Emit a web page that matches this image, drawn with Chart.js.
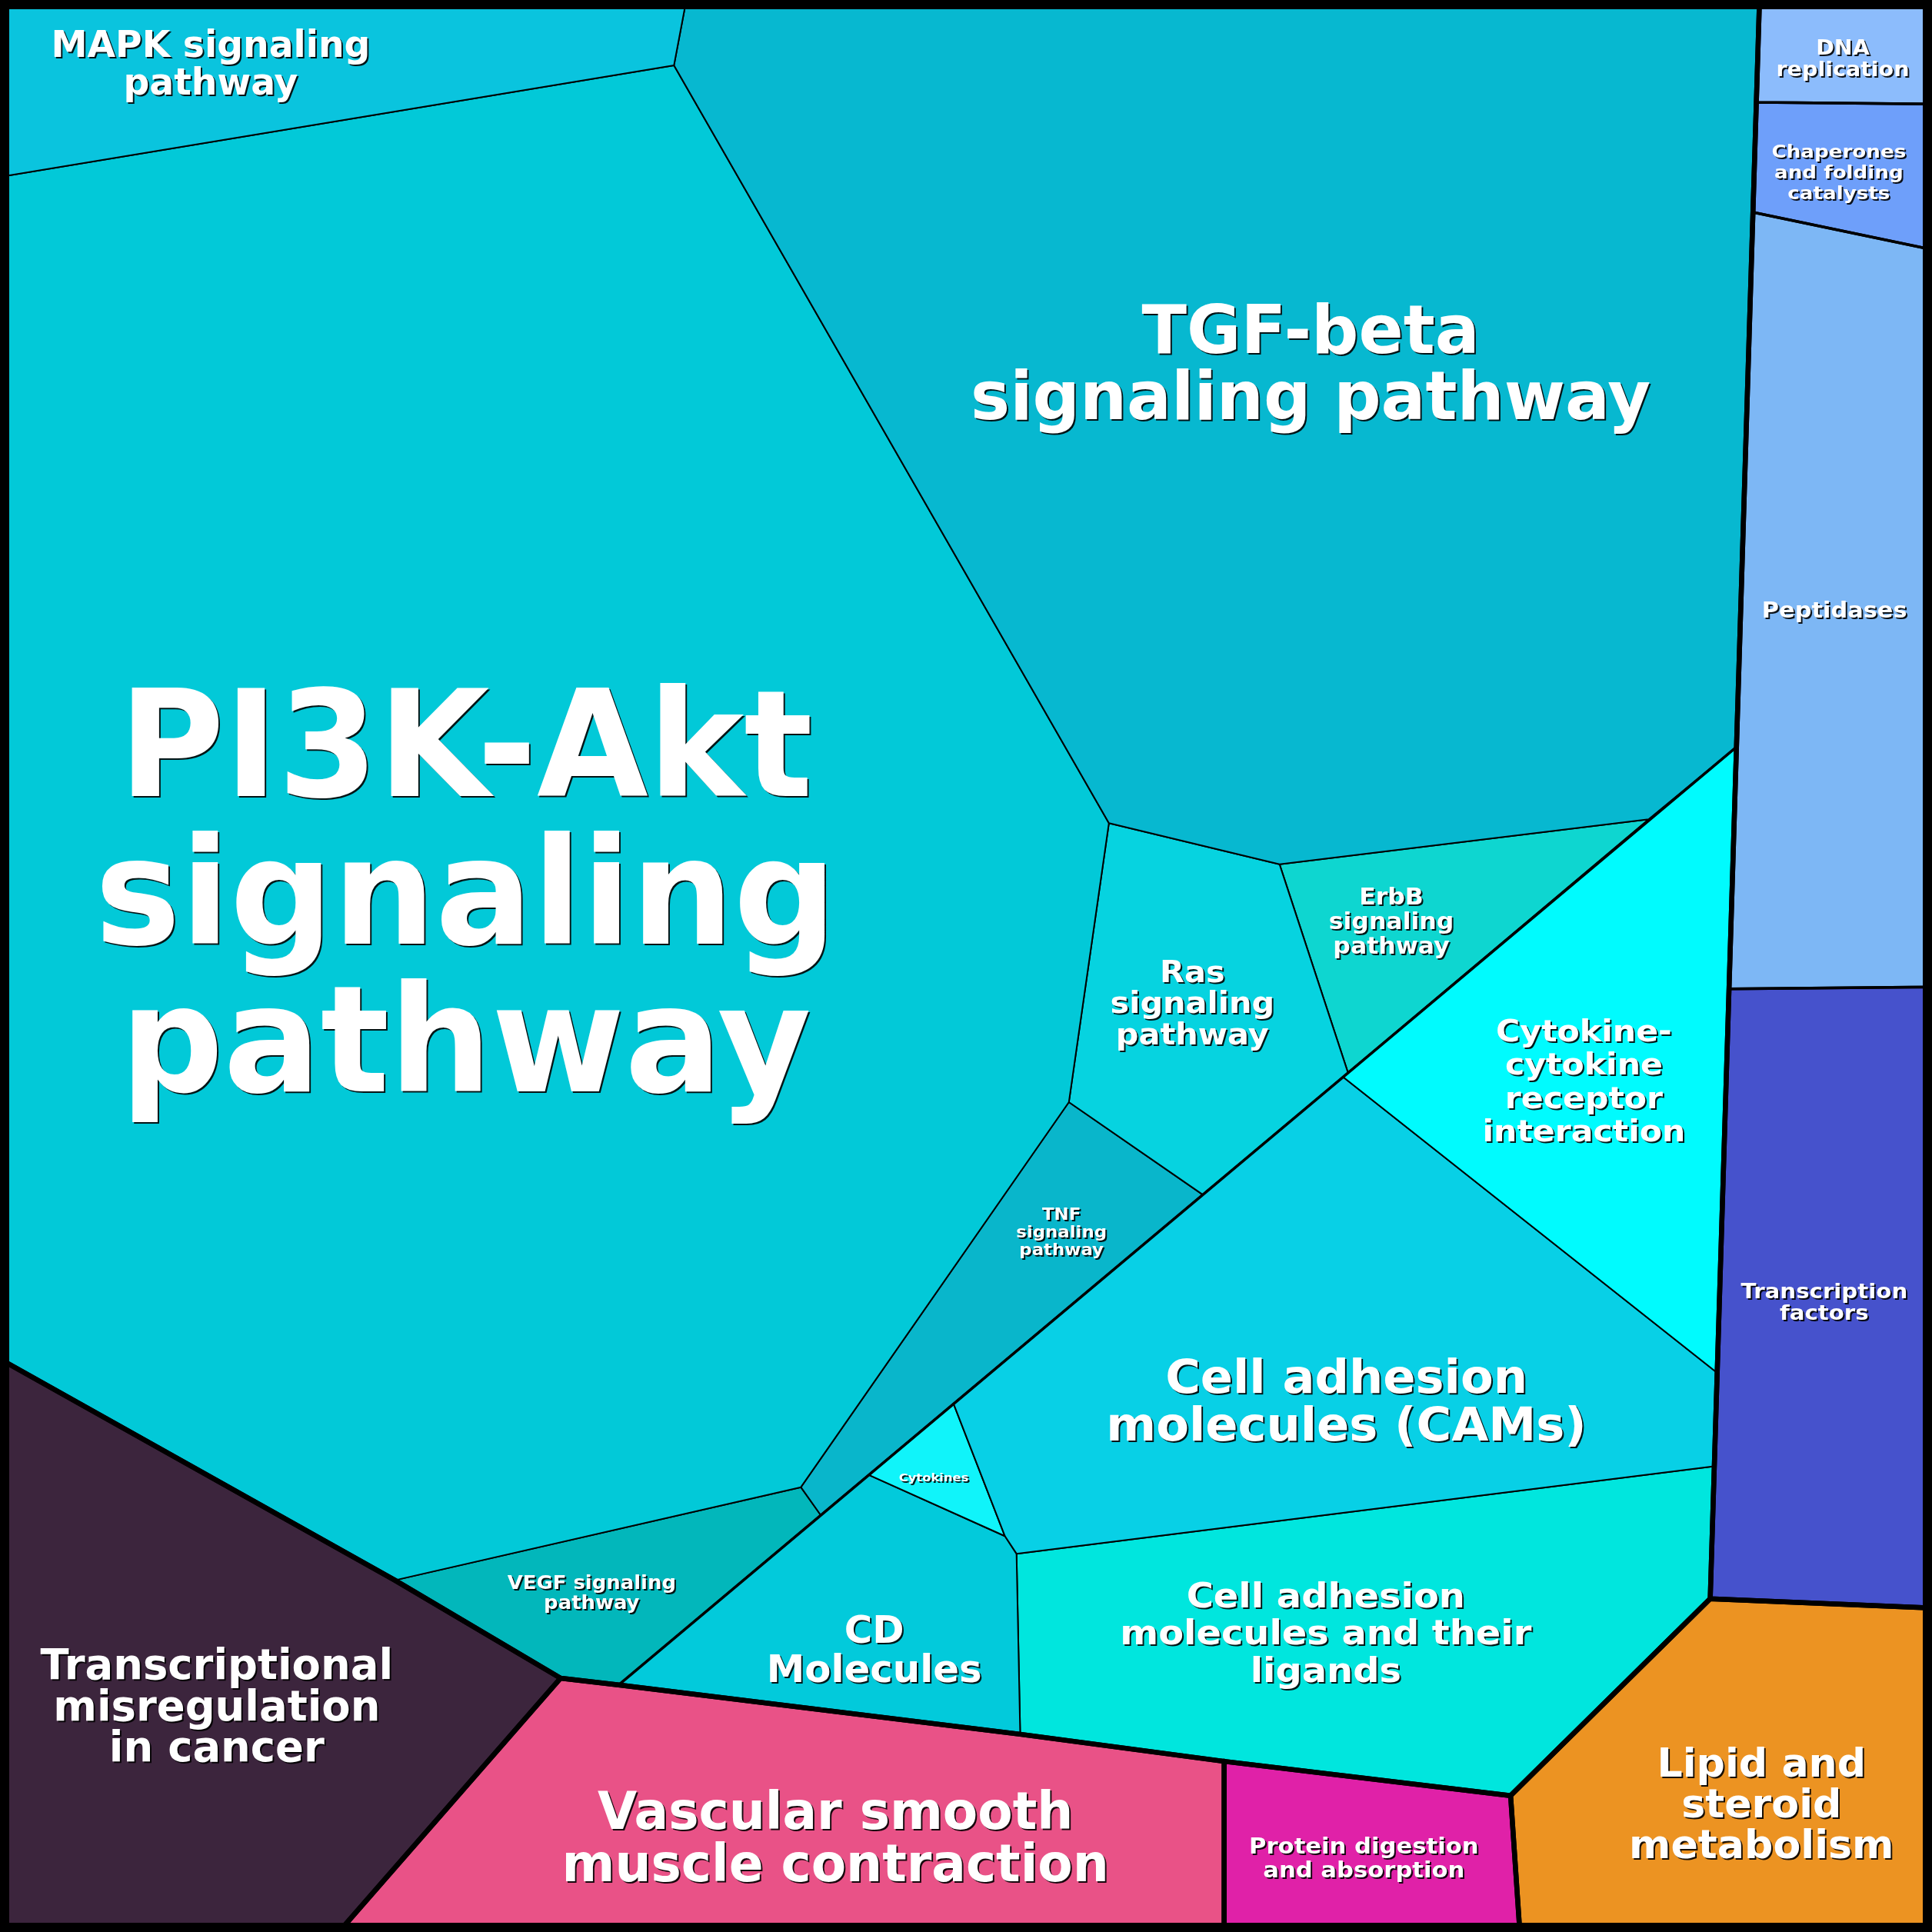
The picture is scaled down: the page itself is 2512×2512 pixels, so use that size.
<!DOCTYPE html>
<html>
<head>
<meta charset="utf-8">
<script src="https://cdn.jsdelivr.net/npm/chart.js@4.4.1/dist/chart.umd.min.js"></script>
<style>
  html, body { margin: 0; padding: 0; background: #000; }
  #wrap { width: 2512px; height: 2512px; }
</style>
</head>
<body>
<div id="wrap"><canvas id="myChart" width="2512" height="2512"></canvas></div>
<script>
// Voronoi treemap of KEGG pathways, units are a 0..1568 square (y down)

const pathways = [
  'MAPK signaling pathway', 'TGF-beta signaling pathway', 'PI3K-Akt signaling pathway',
  'Ras signaling pathway', 'ErbB signaling pathway', 'TNF signaling pathway',
  'VEGF signaling pathway', 'Cytokine-cytokine receptor interaction',
  'Cell adhesion molecules (CAMs)', 'Cytokines', 'CD Molecules',
  'Cell adhesion molecules and their ligands', 'Transcriptional misregulation in cancer',
  'Vascular smooth muscle contraction', 'Protein digestion and absorption',
  'Lipid and steroid metabolism', 'DNA replication', 'Chaperones and folding catalysts',
  'Peptidases', 'Transcription factors'
];

// label text split into lines
const labelLines = [
  ['MAPK signaling', 'pathway'], ['TGF-beta', 'signaling pathway'], ['PI3K-Akt', 'signaling', 'pathway'],
  ['Ras', 'signaling', 'pathway'], ['ErbB', 'signaling', 'pathway'], ['TNF', 'signaling', 'pathway'],
  ['VEGF signaling', 'pathway'], ['Cytokine-', 'cytokine', 'receptor', 'interaction'],
  ['Cell adhesion', 'molecules (CAMs)'], ['Cytokines'], ['CD', 'Molecules'],
  ['Cell adhesion', 'molecules and their', 'ligands'], ['Transcriptional', 'misregulation', 'in cancer'],
  ['Vascular smooth', 'muscle contraction'], ['Protein digestion', 'and absorption'],
  ['Lipid and', 'steroid', 'metabolism'], ['DNA', 'replication'], ['Chaperones', 'and folding', 'catalysts'],
  ['Peptidases'], ['Transcription', 'factors']
];

// cell polygons
const cells = [
  [[0,0],[557,0],[547,53],[0,143.6]],
  [[557,0],[1428,0],[1425.5,83],[1422.7,172.3],[1409,606.5],[1338,665],[1038.5,701.5],[900,668],[547,53]],
  [[0,143.6],[547,53],[900,668],[867.5,894.5],[650,1207],[320.5,1282.5],[0,1103]],
  [[900,668],[1038.5,701.5],[1094,870.5],[1090,874],[976,969.5],[867.5,894.5]],
  [[1038.5,701.5],[1338,665],[1094,870.5]],
  [[867.5,894.5],[976,969.5],[666,1229.5],[650,1207]],
  [[320.5,1282.5],[650,1207],[666,1229.5],[502,1367.5],[455,1362]],
  [[1409,606.5],[1403,802.5],[1393.5,1114],[1090,874]],
  [[1090,874],[1393.5,1114],[1391,1190],[825,1261],[815.6,1246.7],[774,1139.5]],
  [[774,1139.5],[815.6,1246.7],[705,1197]],
  [[705,1197],[815.6,1246.7],[825,1261],[828,1407.5],[502,1367.5]],
  [[825,1261],[1391,1190],[1388,1297.5],[1226,1457.3],[993.5,1429.5],[828,1407.5]],
  [[0,1103],[320.5,1282.5],[455,1362],[275,1568],[0,1568]],
  [[455,1362],[502,1367.5],[828,1407.5],[993.5,1429.5],[993.5,1568],[275,1568]],
  [[993.5,1429.5],[1226,1457.3],[1233.5,1568],[993.5,1568]],
  [[1226,1457.3],[1388,1297.5],[1568,1305],[1568,1568],[1233.5,1568]],
  [[1428,0],[1568,0],[1568,84.5],[1425.5,83]],
  [[1425.5,83],[1568,84.5],[1568,202.5],[1422.7,172.3]],
  [[1422.7,172.3],[1568,202.5],[1568,801],[1403,802.5]],
  [[1403,802.5],[1568,801],[1568,1305],[1388,1297.5]]
];

// second level groups (medium borders)
const subGroups = [
  [[1409,606.5],[1393.5,1114],[1391,1190],[1388,1297.5],[1226,1457.3],[993.5,1429.5],[828,1407.5],[502,1367.5]],
  cells[16], cells[17], cells[18], cells[19]
];

// top level groups (thick borders)
const topGroups = [
  [[0,0],[1428,0],[1388,1297.5],[1226,1457.3],[993.5,1429.5],[828,1407.5],[502,1367.5],[455,1362],[320.5,1282.5],[0,1103]],
  cells[12], cells[13], cells[14], cells[15],
  [[1428,0],[1568,0],[1568,1305],[1388,1297.5]]
];

const cellColors = [
  '#0AC4DE', '#07B8D0', '#02C9D8', '#06D3E0', '#0ED6D0', '#09B6CB', '#02B7BB',
  '#00FBFE', '#08D0E6', '#10F4FA', '#02CADB', '#00E6DE', '#3C253D', '#E95287',
  '#E021A8', '#EC9322', '#8CBCFC', '#6E9FFA', '#7DB7F5', '#4652CC'
];

// label layout: centre x, first baseline y, font size, widest line width, line height
const labelLayout = [
  [171, 46.2, 29.7, 259, 1.03], [1063.7, 286.5, 54.8, 551.8, 0.98], [378, 645.8, 119.9, 602, 1.0],
  [967.7, 797, 24.8, 133.3, 1.02], [1129.2, 734, 19.1, 101.4, 1.04], [861.5, 989.8, 13.4, 73.5, 1.07],
  [480.2, 1289.4, 15.4, 136.9, 1.05], [1285.5, 845.4, 24.8, 164.8, 1.085],
  [1092.7, 1130.3, 38.1, 389.8, 1.02], [757.8, 1202, 9.1, 56.6, 1], [709.5, 1333.1, 30.6, 174.8, 1.04],
  [1076, 1304.4, 28.1, 334, 1.08], [175.9, 1362.5, 34.1, 286.2, 0.985],
  [678, 1484.6, 41.9, 444, 1.0], [1106.9, 1504.6, 18.1, 186.4, 1.05],
  [1429.6, 1442, 32.5, 215, 1.02], [1495.6, 44.3, 16.5, 108, 1.07], [1492.4, 128, 14.9, 109.2, 1.13],
  [1488.8, 501, 18, 117.8, 1], [1480.5, 1053.6, 16.9, 135.3, 1.05]
];

function toPoints(poly) {
  var pts = poly.map(function(p) { return {x: p[0], y: p[1]}; });
  pts.push({x: poly[0][0], y: poly[0][1]});
  return pts;
}

var datasets = [];
cells.forEach(function(poly, i) {
  datasets.push({
    label: pathways[i], data: toPoints(poly), backgroundColor: cellColors[i],
    borderColor: '#000', borderWidth: 2, fill: 'shape', order: 3
  });
});
subGroups.forEach(function(poly) {
  datasets.push({ data: toPoints(poly), borderColor: '#000', borderWidth: 3.5, fill: false, order: 2 });
});
topGroups.forEach(function(poly) {
  datasets.push({ data: toPoints(poly), borderColor: '#000', borderWidth: 6.5, fill: false, order: 1 });
});

var labelPlugin = {
  id: 'cellLabels',
  afterDatasetsDraw: function(chart) {
    var ctx = chart.ctx, xs = chart.scales.x, ys = chart.scales.y;
    var unit = Math.abs(ys.getPixelForValue(1) - ys.getPixelForValue(0));
    labelLines.forEach(function(lines, i) {
      var l = labelLayout[i];
      var px = l[2] * unit;
      ctx.save();
      ctx.font = 'bold ' + px + 'px "DejaVu Sans"';
      ctx.textAlign = 'center';
      ctx.textBaseline = 'alphabetic';
      var widest = 0;
      lines.forEach(function(t) { widest = Math.max(widest, ctx.measureText(t).width); });
      var sx = (l[3] * unit) / widest;
      var cx = xs.getPixelForValue(l[0]);
      lines.forEach(function(t, k) {
        var by = ys.getPixelForValue(l[1] + k * l[2] * l[4]);
        ctx.save();
        ctx.translate(cx, by);
        ctx.scale(sx, 1);
        ctx.shadowColor = 'rgba(0,0,0,0.9)';
        ctx.shadowOffsetX = 2;
        ctx.shadowOffsetY = 2;
        ctx.shadowBlur = 0;
        ctx.fillStyle = '#fff';
        ctx.fillText(t, 0, 0);
        ctx.restore();
      });
      ctx.restore();
    });
  },
  afterDraw: function(chart) {
    var ctx = chart.ctx;
    ctx.save();
    ctx.strokeStyle = '#000';
    ctx.lineWidth = 24;
    ctx.strokeRect(0, 0, chart.width, chart.height);
    ctx.restore();
  }
};

var ctx = document.getElementById('myChart').getContext('2d');
var myChart = new Chart(ctx, {
  type: 'line',
  data: { datasets: datasets },
  options: {
    responsive: false,
    animation: false,
    events: [],
    layout: { padding: 0 },
    elements: {
      point: { radius: 0 },
      line: { tension: 0, borderJoinStyle: 'round', borderCapStyle: 'round' }
    },
    scales: {
      x: { type: 'linear', min: 0, max: 1568, display: false },
      y: { type: 'linear', min: 0, max: 1568, reverse: true, display: false }
    },
    plugins: {
      legend: { display: false },
      tooltip: { enabled: false }
    }
  },
  plugins: [labelPlugin]
});
</script>
</body>
</html>
